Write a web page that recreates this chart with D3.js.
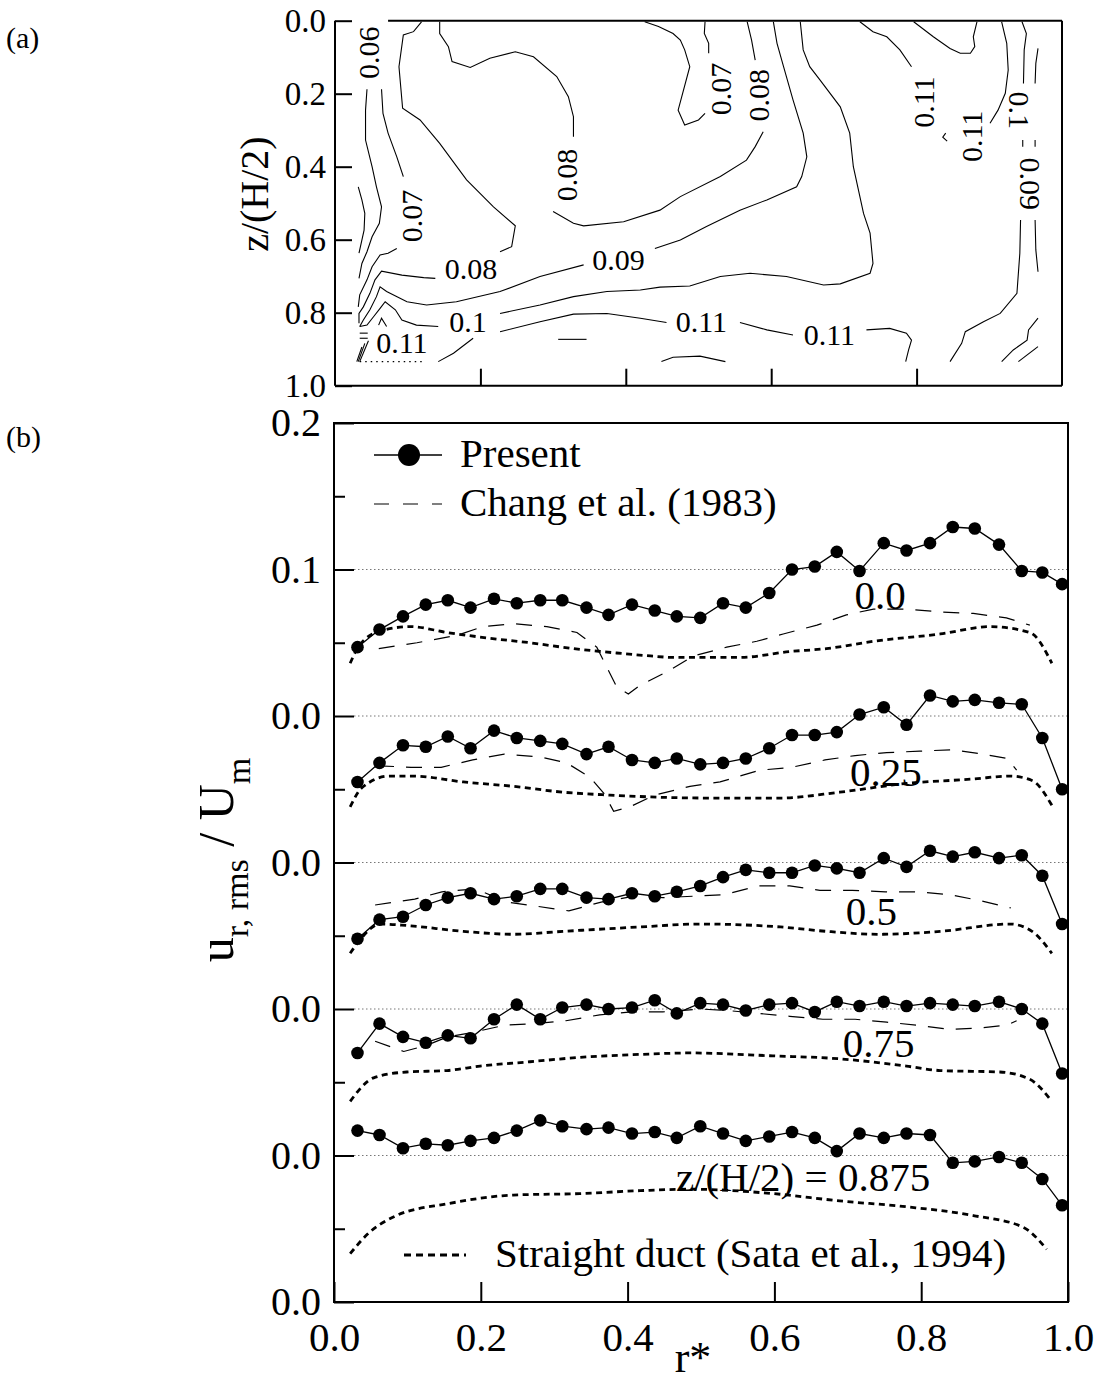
<!DOCTYPE html>
<html>
<head>
<meta charset="utf-8">
<script src="https://cdnjs.cloudflare.com/ajax/libs/d3/7.8.5/d3.min.js"></script>
<style>
body { margin: 0; background: #fff; }
svg { display: block; font-family: "Liberation Serif", "Times New Roman", serif; }
</style>
</head>
<body>
<div id="graph"></div>
<script>
// ---------- panel (b) data ----------
var rStar = [0.032, 0.062, 0.094, 0.125, 0.155, 0.186, 0.218, 0.249, 0.281, 0.311, 0.344, 0.374, 0.406, 0.437, 0.467, 0.499,
             0.530, 0.561, 0.593, 0.624, 0.655, 0.685, 0.716, 0.749, 0.780, 0.812, 0.843, 0.873, 0.906, 0.937, 0.965, 0.992]

var bandNames = ["0.0", "0.25", "0.5", "0.75", "z/(H/2) = 0.875"]
var bandShift = [0, -0.1, -0.2, -0.3, -0.4]

var present0 = [.047,.059,.068,.076,.079,.074,.080,.077,.079,.079,.074,.069,.076,.072,.068,.067,.077,.074,.084,.100,.102,.112,.099,.118,.113,.118,.129,.128,.117,.099,.098,.090]
var present1 = [.055,.068,.080,.079,.086,.078,.090,.085,.083,.081,.074,.079,.070,.068,.071,.067,.068,.071,.078,.087,.087,.089,.101,.106,.094,.114,.110,.111,.109,.108,.085,.050]
var present2 = [.048,.061,.063,.071,.076,.079,.075,.077,.082,.082,.076,.075,.079,.077,.080,.084,.090,.095,.093,.093,.098,.096,.093,.103,.097,.108,.104,.107,.103,.105,.091,.058]
var present3 = [.070,.090,.081,.077,.082,.080,.093,.103,.093,.101,.103,.100,.101,.106,.097,.104,.103,.099,.103,.104,.098,.105,.102,.105,.102,.104,.103,.102,.105,.100,.090,.056]
var present4 = [.117,.114,.105,.108,.107,.110,.112,.117,.124,.120,.118,.119,.115,.116,.112,.120,.115,.110,.113,.116,.112,.103,.115,.112,.115,.114,.095,.096,.099,.095,.084,.066]
var present = [present0, present1, present2, present3, present4]

// Chang et al. (1983), bands 0..3
var changR0 = [0.061,0.113,0.167,0.203,0.244,0.290,0.331,0.358,0.385,0.401,0.417,0.453,0.490,0.535,0.576,0.612,0.658,0.698,0.735,0.780,0.826,0.871,0.916,0.948]
var changU0 = [.046,.050,.055,.061,.063,.061,.057,.047,.020,.015,.021,.030,.041,.047,.051,.056,.062,.069,.073,.073,.071,.070,.067,.062]
var changR1 = [0.060,0.105,0.146,0.189,0.232,0.281,0.317,0.349,0.368,0.381,0.403,0.437,0.485,0.526,0.580,0.624,0.669,0.710,0.753,0.798,0.842,0.884,0.917,0.930]
var changU1 = [.066,.065,.065,.070,.074,.072,.068,.058,.047,.035,.038,.046,.052,.055,.063,.065,.070,.073,.075,.076,.077,.074,.071,.063]
var changR2 = [0.056,0.110,0.147,0.193,0.236,0.278,0.320,0.364,0.409,0.448,0.490,0.531,0.578,0.621,0.662,0.706,0.751,0.796,0.839,0.880,0.922]
var changU2 = [.071,.075,.080,.082,.073,.070,.067,.073,.077,.076,.077,.078,.084,.084,.081,.081,.080,.080,.078,.074,.069]
var changR3 = [0.056,0.095,0.125,0.155,0.189,0.233,0.274,0.316,0.362,0.405,0.448,0.499,0.535,0.578,0.621,0.666,0.710,0.753,0.794,0.839,0.880,0.917,0.930]
var changU3 = [.078,.071,.075,.081,.084,.089,.090,.092,.096,.098,.098,.100,.099,.097,.095,.093,.093,.091,.089,.086,.087,.089,.092]
var changR = [changR0, changR1, changR2, changR3]
var changU = [changU0, changU1, changU2, changU3]

// straight duct (Sata et al., 1994), bands 0..4
var sataR0 = [0.022,0.033,0.063,0.104,0.154,0.213,0.267,0.326,0.385,0.431,0.462,0.553,0.621,0.671,0.735,0.826,0.894,0.948,0.978]
var sataU0 = [.036,.047,.058,.061,.057,.053,.050,.046,.043,.041,.040,.040,.044,.046,.051,.056,.061,.057,.036]
var sataR1 = [0.022,0.038,0.076,0.108,0.176,0.244,0.312,0.376,0.508,0.608,0.689,0.780,0.871,0.921,0.951,0.978]
var sataU1 = [.038,.051,.059,.059,.055,.052,.048,.046,.044,.044,.048,.054,.057,.059,.056,.039]
var sataR2 = [0.022,0.035,0.063,0.099,0.176,0.244,0.312,0.417,0.499,0.608,0.671,0.744,0.826,0.921,0.951,0.978]
var sataU2 = [.038,.047,.058,.057,.053,.051,.053,.056,.058,.056,.053,.051,.053,.058,.053,.038]
var sataR3 = [0.022,0.054,0.099,0.154,0.199,0.267,0.335,0.417,0.485,0.598,0.689,0.780,0.826,0.907,0.948,0.978]
var sataU3 = [.037,.053,.057,.058,.061,.064,.067,.069,.070,.068,.066,.061,.058,.057,.052,.037]
var sataR4 = [0.022,0.045,0.085,0.154,0.244,0.335,0.417,0.485,0.598,0.689,0.780,0.871,0.939,0.971]
var sataU4 = [.033,.046,.059,.067,.073,.074,.076,.077,.074,.069,.065,.059,.051,.036]
var sataR = [sataR0, sataR1, sataR2, sataR3, sataR4]
var sataU = [sataU0, sataU1, sataU2, sataU3, sataU4]

var yTickValues = [-0.4, -0.3, -0.2, -0.1, 0, 0.1, 0.2]
var yTickLabels = ["0.0", "0.0", "0.0", "0.0", "0.0", "0.1", "0.2"]
var yMinorValues = [-0.35, -0.25, -0.15, -0.05, 0.05, 0.15]
var gridValues = [0.1, 0, -0.1, -0.2, -0.3]
var xTickValues = [0, 0.2, 0.4, 0.6, 0.8, 1.0]
// where each band label sits (r*, value within band)
var bandLabelAt = [[0.744, 0.073], [0.752, 0.052], [0.732, 0.057], [0.742, 0.067], [0.639, 0.076]]

// ---------- panel (a) data: contour lines [r*, z/(H/2)] ----------
var zTickValues = [0, 0.2, 0.4, 0.6, 0.8, 1.0]
var contourLines = [
  [[0.032,0.455],[0.037,0.491],[0.041,0.528],[0.040,0.574],[0.033,0.637]],
  [[0.044,0.188],[0.042,0.245],[0.042,0.327],[0.051,0.400],[0.057,0.455],[0.064,0.510],[0.061,0.555],[0.051,0.592],[0.044,0.633],[0.037,0.665],[0.033,0.706]],
  [[0.064,0.188],[0.066,0.254],[0.073,0.308],[0.085,0.373],[0.094,0.427]],
  [[0.085,0.624],[0.073,0.637],[0.062,0.642],[0.051,0.674],[0.044,0.710],[0.034,0.751],[0.032,0.784]],
  [[0.119,0.003],[0.108,0.030],[0.094,0.039],[0.088,0.126],[0.093,0.240],[0.117,0.272],[0.144,0.336],[0.181,0.436],[0.218,0.510],[0.248,0.562],[0.243,0.619],[0.227,0.633]],
  [[0.138,0.706],[0.122,0.704],[0.092,0.697],[0.064,0.686],[0.055,0.710],[0.048,0.747],[0.039,0.784],[0.033,0.802],[0.033,0.829]],
  [[0.144,0.003],[0.144,0.035],[0.156,0.071],[0.161,0.112],[0.186,0.128],[0.213,0.103],[0.248,0.085],[0.273,0.099],[0.305,0.153],[0.321,0.208],[0.328,0.263],[0.328,0.318]],
  [[0.300,0.523],[0.328,0.555],[0.342,0.562],[0.397,0.551],[0.447,0.519],[0.475,0.482],[0.530,0.427],[0.566,0.382],[0.578,0.345],[0.589,0.304]],
  [[0.578,0.108],[0.573,0.053],[0.567,0.003]],
  [[0.426,0.003],[0.445,0.016],[0.465,0.035],[0.475,0.053],[0.481,0.080],[0.488,0.126],[0.472,0.245],[0.481,0.286],[0.500,0.272],[0.509,0.254]],
  [[0.514,0.089],[0.514,0.062],[0.508,0.035],[0.509,0.003]],
  [[0.603,0.003],[0.608,0.062],[0.617,0.126],[0.630,0.217],[0.644,0.308],[0.649,0.373],[0.642,0.427],[0.635,0.455],[0.594,0.491],[0.557,0.519],[0.511,0.564],[0.475,0.601],[0.440,0.624]],
  [[0.342,0.669],[0.282,0.701],[0.227,0.742],[0.167,0.770],[0.126,0.779],[0.099,0.770],[0.071,0.742],[0.062,0.729],[0.057,0.756],[0.048,0.792],[0.039,0.820],[0.034,0.838]],
  [[0.640,0.003],[0.644,0.080],[0.653,0.126],[0.667,0.162],[0.695,0.236],[0.708,0.308],[0.713,0.400],[0.727,0.528],[0.736,0.582],[0.740,0.665],[0.736,0.692],[0.695,0.721],[0.672,0.724],[0.621,0.701],[0.571,0.692],[0.530,0.701],[0.488,0.727],[0.447,0.730],[0.420,0.738],[0.374,0.742],[0.328,0.756],[0.282,0.779],[0.227,0.802]],
  [[0.142,0.838],[0.112,0.834],[0.092,0.820],[0.083,0.792],[0.069,0.770],[0.062,0.788],[0.053,0.811],[0.044,0.834],[0.034,0.838]],
  [[0.227,0.852],[0.282,0.825],[0.328,0.804],[0.374,0.802],[0.420,0.815],[0.456,0.827]],
  [[0.557,0.827],[0.594,0.847],[0.630,0.861]],
  [[0.731,0.847],[0.763,0.843],[0.786,0.856],[0.793,0.875],[0.789,0.902],[0.785,0.934]],
  [[0.142,0.934],[0.163,0.911],[0.190,0.870]],
  [[0.449,0.934],[0.465,0.922],[0.502,0.919],[0.537,0.934]],
  [[0.307,0.873],[0.346,0.873]],
  [[0.060,0.834],[0.064,0.815],[0.071,0.838]],
  [[0.046,0.877],[0.034,0.934]],
  [[0.041,0.884],[0.032,0.934]],
  [[0.037,0.894],[0.030,0.934]],
  [[0.034,0.856],[0.045,0.856]],
  [[0.034,0.870],[0.045,0.870]],
  [[0.796,0.003],[0.823,0.044],[0.846,0.076],[0.860,0.089],[0.874,0.089],[0.880,0.071],[0.878,0.044],[0.883,0.003]],
  [[0.722,0.003],[0.740,0.030],[0.759,0.044],[0.777,0.080],[0.793,0.126]],
  [[0.917,0.003],[0.924,0.062],[0.926,0.135],[0.922,0.199],[0.912,0.245],[0.901,0.281]],
  [[0.840,0.308],[0.836,0.319],[0.842,0.330]],
  [[0.945,0.003],[0.951,0.035],[0.948,0.080],[0.947,0.172]],
  [[0.946,0.327],[0.946,0.345]],
  [[0.943,0.546],[0.942,0.637],[0.938,0.747],[0.915,0.802],[0.892,0.825],[0.867,0.852],[0.862,0.884],[0.846,0.934]],
  [[0.967,0.076],[0.964,0.117],[0.963,0.172]],
  [[0.963,0.327],[0.963,0.345]],
  [[0.963,0.546],[0.964,0.628],[0.967,0.688]],
  [[0.967,0.815],[0.954,0.847],[0.952,0.875],[0.933,0.902],[0.917,0.934]],
  [[0.967,0.893],[0.940,0.934]]
]
var contourDotted = [[0.034,0.934],[0.124,0.934]]
var contourLabelText = ["0.06","0.07","0.08","0.08","0.08","0.07","0.09","0.1","0.11","0.11","0.11","0.11","0.11","0.1","0.09"]
var contourLabelR    = [0.046, 0.105, 0.187, 0.318, 0.583, 0.530, 0.390, 0.183, 0.504, 0.680, 0.092, 0.809, 0.876, 0.942, 0.956]
var contourLabelZ    = [0.088, 0.535, 0.680, 0.423, 0.204, 0.187, 0.653, 0.823, 0.824, 0.861, 0.882, 0.223, 0.317, 0.245, 0.447]
var contourLabelRot  = [-90, -90, 0, -90, -90, -90, 0, 0, 0, 0, 0, -90, -90, 90, 90]

// ---------- layout ----------
var width = 1098, height = 1384

var svg = d3.select("#graph").append("svg")
    .attr("width", width)
    .attr("height", height)

var xA = d3.scaleLinear().domain([0, 1]).range([335, 1062])
var yA = d3.scaleLinear().domain([0, 1]).range([20.7, 385.7])
var xB = d3.scaleLinear().domain([0, 1]).range([334, 1068])
var yB = d3.scaleLinear().domain([-0.4, 0.2]).range([1302, 423])

function styleAxis(g, size) {
    g.select(".domain").remove()
    g.selectAll(".tick line").attr("stroke", "#000").attr("stroke-width", 2)
    g.selectAll("text")
        .attr("font-family", "'Liberation Serif', 'Times New Roman', serif")
        .attr("font-size", size)
        .attr("fill", "#000")
}

// panel labels
svg.append("text").attr("x", 6).attr("y", 48).attr("font-size", 30).text("(a)")
svg.append("text").attr("x", 6).attr("y", 447).attr("font-size", 30).text("(b)")

// ================= panel (a) =================
var panelA = svg.append("g").attr("class", "panelA")

panelA.append("g")
    .attr("transform", "translate(" + xA(0) + ",0)")
    .call(d3.axisLeft(yA).tickValues(zTickValues).tickFormat(d3.format(".1f"))
        .tickSizeInner(-17).tickSizeOuter(0).tickPadding(9))
    .call(styleAxis, 33)

panelA.append("g")
    .attr("transform", "translate(0," + yA(1) + ")")
    .call(d3.axisBottom(xA).tickValues([0.2, 0.4, 0.6, 0.8]).tickFormat("")
        .tickSizeInner(-17).tickSizeOuter(0))
    .call(styleAxis, 33)

// frame of panel (a)
var frameA = panelA.append("g").attr("stroke", "#000").attr("stroke-width", 2).attr("fill", "none")
frameA.append("line").attr("x1", xA(0)).attr("x2", xA(0)).attr("y1", yA(0)).attr("y2", yA(1))
frameA.append("line").attr("x1", xA(0)).attr("x2", xA(1)).attr("y1", yA(1)).attr("y2", yA(1))
frameA.append("line").attr("x1", xA(1)).attr("x2", xA(1)).attr("y1", yA(0)).attr("y2", yA(1))
frameA.append("line").attr("x1", xA(0.073)).attr("x2", xA(1)).attr("y1", yA(0)).attr("y2", yA(0))

var contourPath = d3.line().x(function(d) { return xA(d[0]) }).y(function(d) { return yA(d[1]) })

panelA.append("g")
    .attr("fill", "none")
    .attr("stroke", "#000")
    .attr("stroke-width", 1.1)
    .selectAll("path")
    .data(contourLines)
    .enter().append("path")
    .attr("d", contourPath)

panelA.append("path")
    .attr("d", contourPath(contourDotted))
    .attr("fill", "none")
    .attr("stroke", "#000")
    .attr("stroke-width", 1.2)
    .attr("stroke-dasharray", "1.5,4")

panelA.append("g")
    .selectAll("text")
    .data(contourLabelText)
    .enter().append("text")
    .attr("transform", function(d, i) {
        return "translate(" + xA(contourLabelR[i]) + "," + yA(contourLabelZ[i]) + ") rotate(" + contourLabelRot[i] + ")"
    })
    .attr("text-anchor", "middle")
    .attr("dy", "0.35em")
    .attr("font-size", 30)
    .text(function(d) { return d })

panelA.append("text")
    .attr("transform", "translate(268," + yA(0.475) + ") rotate(-90)")
    .attr("text-anchor", "middle")
    .attr("font-size", 40)
    .text("z/(H/2)")

// ================= panel (b) =================
var panelB = svg.append("g").attr("class", "panelB")

// dotted reference lines
panelB.append("g")
    .selectAll("line")
    .data(gridValues)
    .enter().append("line")
    .attr("x1", xB(0) + 20)
    .attr("x2", xB(1))
    .attr("y1", function(d) { return yB(d) })
    .attr("y2", function(d) { return yB(d) })
    .attr("stroke", "#777")
    .attr("stroke-width", 1)
    .attr("stroke-dasharray", "1.5,2.5")

panelB.append("g")
    .attr("transform", "translate(" + xB(0) + ",0)")
    .call(d3.axisLeft(yB).tickValues(yTickValues)
        .tickFormat(function(d, i) { return yTickLabels[i] })
        .tickSizeInner(-20).tickSizeOuter(0).tickPadding(13))
    .call(styleAxis, 40)

panelB.append("g")
    .attr("transform", "translate(" + xB(0) + ",0)")
    .call(d3.axisLeft(yB).tickValues(yMinorValues).tickFormat("")
        .tickSizeInner(-11).tickSizeOuter(0))
    .call(styleAxis, 40)

panelB.append("g")
    .attr("transform", "translate(0," + yB(-0.4) + ")")
    .call(d3.axisBottom(xB).tickValues(xTickValues).tickFormat(d3.format(".1f"))
        .tickSizeInner(-20).tickSizeOuter(0).tickPadding(20))
    .call(styleAxis, 41)

panelB.append("rect")
    .attr("x", xB(0)).attr("y", yB(0.2))
    .attr("width", xB(1) - xB(0)).attr("height", yB(-0.4) - yB(0.2))
    .attr("fill", "none").attr("stroke", "#000").attr("stroke-width", 2)

// straight duct
sataR.forEach(function(rs, b) {
    var pts = rs.map(function(r, i) { return [r, sataU[b][i] + bandShift[b]] })
    panelB.append("path")
        .attr("d", d3.line().curve(d3.curveMonotoneX)
            .x(function(d) { return xB(d[0]) }).y(function(d) { return yB(d[1]) })(pts))
        .attr("fill", "none")
        .attr("stroke", "#000")
        .attr("stroke-width", 2.8)
        .attr("stroke-dasharray", "6,4.5")
})

// Chang et al.
changR.forEach(function(rs, b) {
    var pts = rs.map(function(r, i) { return [r, changU[b][i] + bandShift[b]] })
    panelB.append("path")
        .attr("d", d3.line().x(function(d) { return xB(d[0]) }).y(function(d) { return yB(d[1]) })(pts))
        .attr("fill", "none")
        .attr("stroke", "#000")
        .attr("stroke-width", 1.2)
        .attr("stroke-dasharray", "16,12")
})

// present
present.forEach(function(vals, b) {
    var pts = vals.map(function(v, i) { return [rStar[i], v + bandShift[b]] })
    var g = panelB.append("g").attr("class", "present")
    g.append("path")
        .attr("d", d3.line().x(function(d) { return xB(d[0]) }).y(function(d) { return yB(d[1]) })(pts))
        .attr("fill", "none")
        .attr("stroke", "#000")
        .attr("stroke-width", 1.3)
    g.selectAll("circle")
        .data(pts)
        .enter().append("circle")
        .attr("cx", function(d) { return xB(d[0]) })
        .attr("cy", function(d) { return yB(d[1]) })
        .attr("r", 6.3)
        .attr("fill", "#000")
})

// band labels
panelB.append("g")
    .selectAll("text")
    .data(bandNames)
    .enter().append("text")
    .attr("x", function(d, i) { return xB(bandLabelAt[i][0]) })
    .attr("y", function(d, i) { return yB(bandLabelAt[i][1] + bandShift[i]) })
    .attr("text-anchor", "middle")
    .attr("font-size", 41)
    .text(function(d) { return d })

// legend
var legend = panelB.append("g").attr("font-size", 41)
legend.append("line").attr("x1", 374).attr("x2", 442).attr("y1", 455).attr("y2", 455)
    .attr("stroke", "#000").attr("stroke-width", 1.3)
legend.append("circle").attr("cx", 409).attr("cy", 455).attr("r", 11).attr("fill", "#000")
legend.append("text").attr("x", 460).attr("y", 467).text("Present")
legend.append("line").attr("x1", 374).attr("x2", 442).attr("y1", 504).attr("y2", 504)
    .attr("stroke", "#000").attr("stroke-width", 1.2).attr("stroke-dasharray", "15,14")
legend.append("text").attr("x", 460).attr("y", 516).text("Chang et al. (1983)")
legend.append("line").attr("x1", 404).attr("x2", 466).attr("y1", 1255).attr("y2", 1255)
    .attr("stroke", "#000").attr("stroke-width", 2.8).attr("stroke-dasharray", "7,5")
legend.append("text").attr("x", 495).attr("y", 1267).text("Straight duct (Sata et al., 1994)")

// axis titles
var ylab = panelB.append("text")
    .attr("transform", "translate(233,860) rotate(-90)")
    .attr("text-anchor", "middle")
    .attr("font-size", 50)
ylab.append("tspan").text("u")
ylab.append("tspan").attr("font-size", 34).attr("dy", 15).text("r, rms")
ylab.append("tspan").attr("dy", -15).text(" / U")
ylab.append("tspan").attr("font-size", 34).attr("dy", 17).text("m")

panelB.append("text")
    .attr("x", 693).attr("y", 1372)
    .attr("text-anchor", "middle")
    .attr("font-size", 44)
    .text("r*")
</script>
</body>
</html>
